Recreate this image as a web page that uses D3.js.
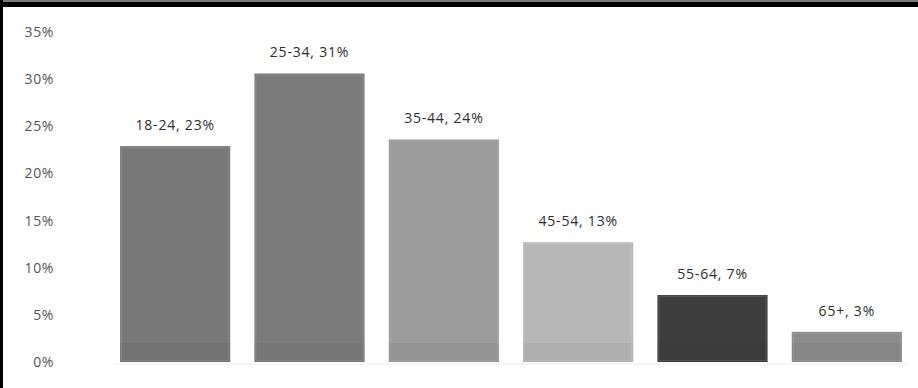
<!DOCTYPE html>
<html lang="en">
<head>
    <meta charset="UTF-8">
    <title>Age Group Distribution</title>
    <script src="https://d3js.org/d3.v7.min.js"></script>
    <style>
        body { margin: 0; background: #fff; }
        svg { display: block; }
    </style>
</head>
<body>
    <script>
// data
const ageGroups = ['18-24', '25-34', '35-44', '45-54', '55-64', '65+'];
const shares = [0.229, 0.306, 0.236, 0.127, 0.071, 0.032];
const barColors = ['#787878', '#7b7b7b', '#9b9b9b', '#b7b7b7', '#3e3e3e', '#8c8c8c'];
const yTicks = [0, 0.05, 0.10, 0.15, 0.20, 0.25, 0.30, 0.35];

const width = 918;
const height = 388;

const svg = d3.select('body').append('svg')
    .attr('width', width)
    .attr('height', height);

// frame: grey + black strip at top, black line on the left
svg.append('rect').attr('x', 0).attr('y', 0).attr('width', width).attr('height', 2).attr('fill', '#7a7a7a');
svg.append('rect').attr('x', 0).attr('y', 2).attr('width', width).attr('height', 5).attr('fill', '#000');
svg.append('rect').attr('x', 0).attr('y', 0).attr('width', 3).attr('height', height).attr('fill', '#000');

const x = d3.scaleBand()
    .domain(ageGroups)
    .range([108, 914])
    .paddingInner(0.18)
    .paddingOuter(0.09);

const y = d3.scaleLinear()
    .domain([0, 0.35])
    .range([362, 32]);

// y axis labels only
const yAxis = d3.axisLeft(y)
    .tickValues(yTicks)
    .tickFormat(d3.format('.0%'))
    .tickSize(0)
    .tickPadding(0);

const gy = svg.append('g')
    .attr('transform', 'translate(54,0)')
    .call(yAxis);
gy.select('.domain').remove();
gy.selectAll('text')
    .attr('fill', '#555')
    .style('font-family', '"Open Sans", sans-serif')
    .style('font-size', '14px')
    .style('letter-spacing', '0.6px');

const data = ageGroups.map((g, i) => ({ group: g, value: shares[i], color: barColors[i] }));

// faint baseline
svg.append('line')
    .attr('x1', x(ageGroups[0]) - 6).attr('x2', x(ageGroups[5]) + x.bandwidth() + 6)
    .attr('y1', y(0) + 2).attr('y2', y(0) + 2)
    .attr('stroke', '#eee');

const bars = svg.append('g').selectAll('g')
    .data(data)
    .enter()
    .append('g');

bars.append('rect')
    .attr('x', d => x(d.group))
    .attr('y', d => y(d.value))
    .attr('width', x.bandwidth())
    .attr('height', d => y(0) - y(d.value))
    .attr('fill', d => d.color);

// slightly darker strip along the bottom of each bar
bars.append('rect')
    .attr('x', d => x(d.group))
    .attr('y', d => Math.max(y(d.value), y(0) - 19))
    .attr('width', x.bandwidth())
    .attr('height', d => Math.min(19, y(0) - y(d.value)))
    .attr('fill', '#000')
    .attr('opacity', 0.04);

// thin lighter edge inside the bar
bars.append('rect')
    .attr('x', d => x(d.group) + 1.5)
    .attr('y', d => y(d.value) + 1.5)
    .attr('width', x.bandwidth() - 3)
    .attr('height', d => y(0) - y(d.value) - 3)
    .attr('fill', 'none')
    .attr('stroke', '#fff')
    .attr('stroke-opacity', 0.12);

bars.append('text')
    .attr('x', d => x(d.group) + x.bandwidth() / 2)
    .attr('y', d => y(d.value) - 16)
    .attr('text-anchor', 'middle')
    .attr('fill', '#2e2e2e')
    .style('font-family', '"Open Sans", sans-serif')
    .style('font-size', '14px')
    .style('letter-spacing', '0.8px')
    .text(d => `${d.group}, ${Math.round(d.value * 100)}%`);
    </script>
</body>
</html>
